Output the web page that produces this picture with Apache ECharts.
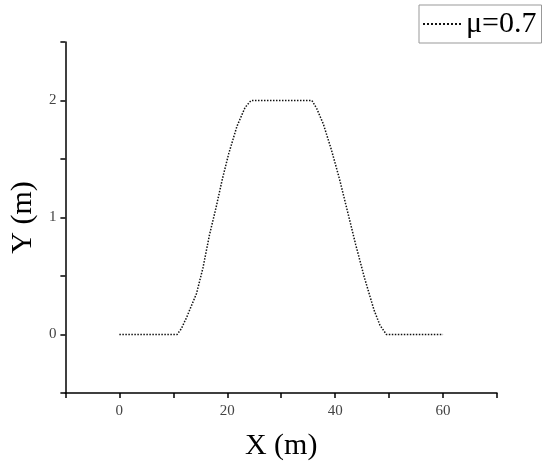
<!DOCTYPE html>
<html>
<head>
<meta charset="utf-8">
<script src="https://cdn.jsdelivr.net/npm/echarts@6/dist/echarts.min.js"></script>
<style>
  html, body { margin: 0; padding: 0; background: #fff; }
  #chart { width: 550px; height: 466px; }
</style>
</head>
<body>
<div id="chart"></div>
<script>
// profile
const xs = [0, 10.7, 11.5, 12.5, 14.3, 15.5, 16.7, 17.9, 19.1, 20.3, 21.8, 23.3, 24.4, 35.7, 36.6, 37.8, 39.3, 40.8, 42.3, 43.8, 45.4, 47.2, 48.3, 49.5, 60]
const ys = [0, 0, 0.05, 0.15, 0.35, 0.57, 0.85, 1.08, 1.33, 1.55, 1.78, 1.94, 2.0, 2.0, 1.93, 1.8, 1.58, 1.33, 1.05, 0.77, 0.49, 0.21, 0.08, 0, 0]
const seriesName = 'μ=0.7'
const xLabels = [0, 20, 40, 60]
const yLabels = [0, 1, 2]

const font = 'Liberation Serif'
const chart = echarts.init(document.getElementById('chart'))

const axisCommon = {
  axisLine: { onZero: false, lineStyle: { color: '#000', width: 1.5 } },
  axisTick: { show: true, inside: false, length: 5, lineStyle: { color: '#000', width: 1.5 } },
  splitLine: { show: false },
  nameTextStyle: { fontFamily: font, fontSize: 30, color: '#000' },
}

chart.setOption({
  backgroundColor: '#fff',
  animation: false,
  grid: { left: 56, right: 53, top: 42, bottom: 70 },
  legend: {
    left: 419,
    top: 5,
    padding: [4, 5, 4, 3],
    itemWidth: 38,
    itemHeight: 30,
    itemGap: 8,
    borderColor: '#999',
    borderWidth: 1,
    itemStyle: { opacity: 0 },
    textStyle: { fontFamily: font, fontSize: 30, color: '#000' },
    data: [seriesName],
  },
  xAxis: {
    type: 'value',
    min: -10,
    max: 70,
    interval: 10,
    name: 'X (m)',
    nameLocation: 'middle',
    nameGap: 38,
    ...axisCommon,
    axisLabel: {
      margin: 11,
      fontFamily: font,
      fontSize: 15,
      color: '#444',
      formatter: (v) => (xLabels.includes(v) ? String(v) : ''),
    },
  },
  yAxis: {
    type: 'value',
    min: -0.5,
    max: 2.5,
    interval: 0.5,
    name: 'Y (m)',
    nameLocation: 'middle',
    nameGap: 26,
    ...axisCommon,
    axisLabel: {
      margin: 9,
      fontFamily: font,
      fontSize: 15,
      color: '#444',
      formatter: (v) => (yLabels.includes(v) ? String(v) : ''),
    },
  },
  series: [
    {
      name: seriesName,
      type: 'line',
      symbol: 'none',
      data: xs.map((x, i) => [x, ys[i]]),
      itemStyle: { color: '#111' },
      lineStyle: { color: '#111', width: 1.5, type: 'dotted' },
    },
  ],
})
</script>
</body>
</html>
